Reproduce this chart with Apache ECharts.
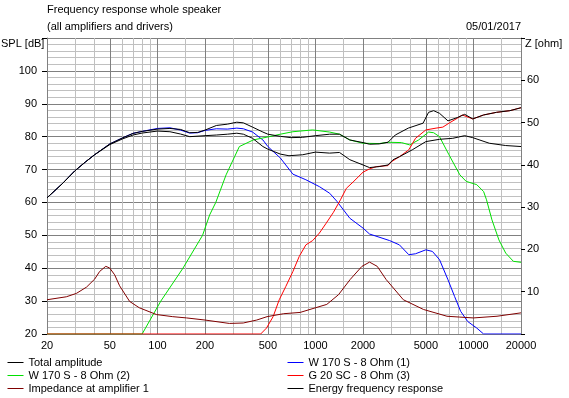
<!DOCTYPE html>
<html>
<head>
<meta charset="utf-8">
<script src="https://cdn.jsdelivr.net/npm/echarts@6/dist/echarts.min.js"></script>
<style>
html, body { margin: 0; padding: 0; background: #fff; }
#main { width: 569px; height: 398px; }
</style>
</head>
<body>
<div id="main"></div>
<script>
var majorFreqs = [20, 50, 100, 200, 500, 1000, 2000, 5000, 10000, 20000];
var minorFreqs = [30, 40, 60, 70, 80, 90, 150, 300, 400, 600, 700, 800, 900, 1500,
                  3000, 4000, 6000, 7000, 8000, 9000, 15000];

// [Hz, dB]
var totalAmplitude = [[20,61.4],[25,65.7],[30,69.6],[35,72.3],[40,74.5],[50,77.8],[60,79.6],[70,81.0],[80,81.6],
  [100,82.3],[120,82.5],[140,82.2],[160,81.2],[180,81.3],[200,82.0],[236,83.4],[277,83.8],[318,84.4],[350,84.2],
  [400,82.9],[465,81.4],[500,80.75],[600,80.1],[700,79.7],[830,79.8],[1000,80.3],[1230,80.75],[1420,80.75],
  [1650,79.0],[2000,78.2],[2200,77.7],[2530,77.8],[2880,78.3],[3200,80.5],[3870,82.6],[4800,84.1],[5200,87.4],
  [5600,87.9],[6100,87.1],[6900,84.8],[7900,85.8],[8800,86.8],[9900,85.4],[11600,86.6],[14000,87.4],
  [17000,87.9],[20000,88.8]];

var woofer1 = [[20,61.4],[25,65.7],[30,69.6],[35,72.3],[40,74.5],[50,77.8],[60,79.6],[70,81.0],[80,81.6],
  [100,82.5],[120,82.7],[140,82.0],[160,81.1],[180,81.2],[200,81.9],[236,82.4],[277,82.3],[318,82.6],[350,82.4],
  [400,81.4],[465,79.0],[500,77.0],[600,73.5],[720,68.6],[870,66.9],[1060,64.8],[1230,62.8],[1370,60.3],
  [1650,55.2],[2000,52.2],[2200,50.4],[2950,48.4],[3400,47.1],[3900,44.1],[4300,44.4],[5000,45.6],[5500,45.1],
  [6100,42.6],[6900,36.5],[7600,31.4],[8300,26.9],[9200,23.8],[10500,21.8],[11600,20.0],[20000,20.0]];

var woofer2 = [[20,20],[80,20],[105,30],[145,40],[193,50],[214,56.2],[234,60],[272,68.4],[330,77.0],[404,79.0],
  [510,80.0],[600,80.75],[720,81.5],[960,82.05],[1230,81.4],[1420,80.75],[1650,79.0],[2000,78.0],[2530,77.9],
  [2880,78.3],[3500,78.2],[3950,77.5],[4500,79.0],[5200,81.4],[5600,81.2],[6100,80.0],[7000,74.5],[8200,68.4],
  [9000,66.4],[10500,65.4],[11600,63.3],[12100,60.8],[13100,54.7],[14500,48.6],[16000,44.6],[17900,42.1],
  [20000,41.8]];

var tweeter = [[20,20],[450,20],[490,21.8],[540,25.3],[590,30.4],[650,34.5],[720,39.0],[790,43.6],[870,47.1],
  [960,48.4],[1060,50.7],[1170,53.7],[1300,57.0],[1440,60.8],[1570,64.3],[1730,66.2],[2000,69.2],[2200,70.2],
  [2430,70.9],[2880,71.2],[3030,72.4],[3400,73.9],[3900,76.0],[4300,79.5],[5000,82.05],[5800,82.6],[6400,82.9],
  [7000,84.1],[7900,85.6],[8500,86.6],[9900,85.4],[11600,86.6],[14000,87.4],[17000,87.9],[20000,88.8]];

var energyResponse = [[20,61.4],[25,65.7],[30,69.6],[35,72.3],[40,74.5],[50,77.6],[60,79.3],[70,80.5],[80,81.1],
  [100,81.7],[120,81.5],[140,80.8],[160,80.0],[200,80.3],[236,80.5],[277,80.75],[318,81.05],[350,80.75],
  [400,79.5],[465,77.0],[500,76.2],[600,74.7],[680,74.2],[830,74.5],[1000,75.3],[1230,75.0],[1420,75.2],
  [1650,73.0],[2000,71.4],[2200,70.6],[2530,70.9],[2880,71.4],[3100,73.0],[3400,73.9],[4100,76.0],[5000,78.5],
  [6100,79.2],[7400,79.5],[8800,80.3],[9900,79.7],[12600,78.0],[16000,77.3],[20000,77.0]];

// [Hz, ohm]
var impedance = [[20,8.1],[26.5,8.8],[30.7,9.6],[35.6,11.1],[40.1,13.0],[43.1,14.8],[47.1,16.0],[49.9,15.6],
  [53.6,14.0],[57.6,11.4],[66.7,7.7],[76.8,6.2],[98.6,4.6],[125,4.1],[153,3.8],[200,3.3],[285,2.5],[349,2.6],
  [425,3.3],[494,4.1],[630,4.8],[800,5.1],[1000,6.2],[1180,7.0],[1400,9.3],[1660,12.9],[1970,16.0],[2200,17.0],
  [2460,16.0],[2800,12.9],[3600,8.1],[4830,5.8],[6800,4.2],[8200,4.0],[10000,3.8],[14100,4.2],[20000,5.0]];

var colors = {
  'Total amplitude': '#000000',
  'W 170 S - 8 Ohm (1)': '#0000ff',
  'W 170 S - 8 Ohm (2)': '#00e000',
  'G 20 SC - 8 Ohm (3)': '#ff0000',
  'Impedance at amplifier 1': '#800000',
  'Energy frequency response': '#000000'
};

var font = 'Liberation Sans, Arial, sans-serif';

function lg(list) { return list.map(function (f) { return Math.log10(f); }); }
function toLog(pts) { return pts.map(function (p) { return [Math.log10(p[0]), p[1]]; }); }

var xMin = Math.log10(20), xMax = Math.log10(20000);

function line(name, data, yIdx) {
  return {
    name: name, type: 'line', data: toLog(data), xAxisIndex: 1, yAxisIndex: yIdx,
    symbol: 'none', smooth: false, silent: true, animation: false,
    lineStyle: { color: colors[name], width: 1 }, itemStyle: { color: colors[name] }
  };
}

function legendItems(names) {
  return names.map(function (n) {
    return { name: n, itemStyle: { opacity: 0 }, lineStyle: { color: colors[n], width: 1, opacity: 1 } };
  });
}

var legendBase = {
  top: 356, orient: 'vertical', padding: 0, itemGap: 0, itemWidth: 16, itemHeight: 13,
  selectedMode: false,
  textStyle: { fontSize: 11, lineHeight: 13, color: '#000', fontFamily: font }
};

var chart = echarts.init(document.getElementById('main'));
chart.setOption({
  animation: false,
  textStyle: { fontFamily: font },
  title: [
    { text: 'Frequency response whole speaker', left: 47, top: 4, padding: 0,
      textStyle: { fontSize: 11, fontWeight: 'normal', color: '#000', fontFamily: font } },
    { text: '(all amplifiers and drivers)', left: 47, top: 21, padding: 0,
      textStyle: { fontSize: 11, fontWeight: 'normal', color: '#000', fontFamily: font } },
    { text: '05/01/2017', right: 48, top: 21, padding: 0,
      textStyle: { fontSize: 11, fontWeight: 'normal', color: '#000', fontFamily: font } },
    { text: 'SPL [dB]', left: 1, top: 38, padding: 0,
      textStyle: { fontSize: 11, fontWeight: 'normal', color: '#000', fontFamily: font } },
    { text: 'Z [ohm]', left: 525, top: 38, padding: 0,
      textStyle: { fontSize: 11, fontWeight: 'normal', color: '#000', fontFamily: font } }
  ],
  legend: [
    Object.assign({}, legendBase, { left: 7,
      data: legendItems(['Total amplitude', 'W 170 S - 8 Ohm (2)', 'Impedance at amplifier 1']) }),
    Object.assign({}, legendBase, { left: 287,
      data: legendItems(['W 170 S - 8 Ohm (1)', 'G 20 SC - 8 Ohm (3)', 'Energy frequency response']) })
  ],
  grid: { left: 47, right: 48, top: 38, bottom: 64 },
  xAxis: [
    { type: 'value', min: xMin, max: xMax, position: 'bottom',
      axisLine: { show: false }, axisLabel: { show: false },
      axisTick: { show: false, customValues: lg(minorFreqs) },
      splitLine: { show: true, lineStyle: { color: '#c0c0c0', width: 1 } } },
    { type: 'value', min: xMin, max: xMax, position: 'bottom',
      axisLine: { show: true, lineStyle: { color: '#808080' } },
      axisTick: { show: false, customValues: lg(majorFreqs) },
      axisLabel: { show: true, customValues: lg(majorFreqs), margin: 6, fontSize: 11, color: '#000',
        fontFamily: font, formatter: function (v) { return String(Math.round(Math.pow(10, v))); } },
      splitLine: { show: true, lineStyle: { color: '#808080', width: 1 } } }
  ],
  yAxis: [
    { type: 'value', min: 20, max: 110, interval: 2, position: 'left',
      axisLine: { show: false }, axisTick: { show: false }, axisLabel: { show: false },
      splitLine: { show: true, lineStyle: { color: '#c0c0c0', width: 1 } } },
    { type: 'value', min: 20, max: 110, interval: 10, position: 'left',
      axisLine: { show: true, lineStyle: { color: '#808080' } },
      axisTick: { show: true, length: 5, lineStyle: { color: '#000' } },
      axisLabel: { margin: 10, fontSize: 11, color: '#000', fontFamily: font,
        formatter: function (v) { return v >= 110 ? '' : String(v); } },
      splitLine: { show: true, lineStyle: { color: '#808080', width: 1 } } },
    { type: 'value', min: 0, max: 70, interval: 10, position: 'right',
      axisLine: { show: true, lineStyle: { color: '#808080' } },
      axisTick: { show: true, length: 4, lineStyle: { color: '#000' } },
      axisLabel: { margin: 6, fontSize: 11, color: '#000', fontFamily: font,
        formatter: function (v) { return (v <= 0 || v >= 70) ? '' : String(v); } },
      splitLine: { show: false } }
  ],
  series: [
    line('W 170 S - 8 Ohm (1)', woofer1, 1),
    line('W 170 S - 8 Ohm (2)', woofer2, 1),
    line('G 20 SC - 8 Ohm (3)', tweeter, 1),
    line('Impedance at amplifier 1', impedance, 2),
    line('Energy frequency response', energyResponse, 1),
    line('Total amplitude', totalAmplitude, 1)
  ]
});
</script>
</body>
</html>
